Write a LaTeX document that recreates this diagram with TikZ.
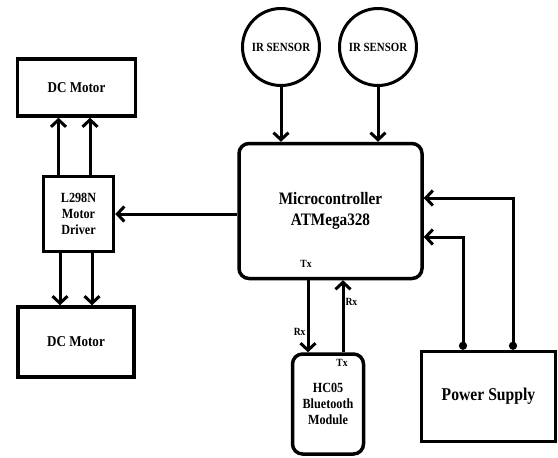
\documentclass[tikz,border=0pt]{standalone}
\usepackage{fontspec}
\setmainfont{Liberation Serif}[FakeStretch=0.87]
\usetikzlibrary{shapes, arrows.meta, positioning, calc}

\begin{document}
\begin{tikzpicture}[
        % styles for the blocks and the wires
        x=1pt, y=-1pt,
        block/.style={
            rectangle,
            draw,
            line width=3.5pt,
            inner sep=2pt,
            align=center,
            font=\bfseries\fontsize{14}{16}\selectfont
        },
        chip/.style={
            block,
            rounded corners=10pt
        },
        sensor/.style={
            circle,
            draw,
            line width=3pt,
            minimum size=77pt,
            inner sep=0pt,
            font=\bfseries\fontsize{12.5}{14}\selectfont
        },
        arrow/.style={
            -{Straight Barb[length=7pt,width=15pt]},
            line width=3pt
        },
        feed/.style={
            arrow,
            {Circle[length=8pt]}-{Straight Barb[length=7pt,width=15pt]}
        },
        tag/.style={
            font=\bfseries\fontsize{11}{12}\selectfont,
            inner sep=1pt
        }
    ]

    \useasboundingbox (0,0) rectangle (558,458);

    % --- 1. NODES ---

    % Microcontroller in the middle
    \node[chip, minimum width=183pt, minimum height=135pt,
          font=\bfseries\fontsize{17.5}{21}\selectfont] (micro) at (330.5,211) {Microcontroller\\ATMega328};

    % IR sensors on top
    \node[sensor] (irA) at (281,47) {IR SENSOR};
    \node[sensor] (irB) at (378,47) {IR SENSOR};

    % Motor driver and the two motors (left side)
    \node[block, minimum width=70pt, minimum height=75pt] (driver) at (78.5,214) {L298N\\Motor\\Driver};
    \node[block, minimum width=118pt, minimum height=57pt, font=\bfseries\fontsize{15}{18}\selectfont,
          above=57pt of driver, xshift=-2pt] (motorA) {DC Motor};
    \node[block, minimum width=116pt, minimum height=70pt, font=\bfseries\fontsize{15}{18}\selectfont,
          below=52pt of driver, xshift=-2.5pt] (motorB) {DC Motor};

    % Bluetooth module (below)
    \node[chip, minimum width=71pt, minimum height=100pt,
          below=72pt of micro, xshift=-2.5pt] (hc05) {HC05\\Bluetooth\\Module};

    % Power supply (bottom right)
    \node[block, minimum width=134pt, minimum height=90pt,
          font=\bfseries\fontsize{18}{21}\selectfont] (power) at (488.5,396.5) {Power Supply};

    % --- 2. EDGES ---

    % sensors -> microcontroller
    \draw[arrow] (irA.south) -- (irA.south |- micro.north);
    \draw[arrow] (irB.south) -- (irB.south |- micro.north);

    % microcontroller -> driver
    \draw[arrow] (micro.west |- driver.east) -- (driver.east);

    % driver -> motors
    \draw[arrow] ([xshift=-20pt]driver.north) -- ([xshift=-20pt]driver.north |- motorA.south);
    \draw[arrow] ([xshift=11.5pt]driver.north) -- ([xshift=11.5pt]driver.north |- motorA.south);
    \draw[arrow] ([xshift=-18.5pt]driver.south) -- ([xshift=-18.5pt]driver.south |- motorB.north);
    \draw[arrow] ([xshift=13.5pt]driver.south) -- ([xshift=13.5pt]driver.south |- motorB.north);

    % serial link with the bluetooth module
    \draw[arrow] ([xshift=-22.5pt]micro.south) -- node[tag, left, pos=0.72] (rxB) {Rx}
        ([xshift=-22.5pt]micro.south |- hc05.north);
    \draw[arrow] ([xshift=12.5pt]micro.south |- hc05.north) -- node[tag, right, pos=0.7] (rxM) {Rx}
        ([xshift=12.5pt]micro.south);
    \node[tag] (txM) at ([xshift=-24.5pt,yshift=16pt]micro.south) {Tx};
    \node[tag] (txH) at ([xshift=14pt,yshift=-11pt]hc05.north) {Tx};

    % power supply -> microcontroller (right angle wires)
    \draw[feed] ([xshift=-25.5pt]power.north) |- ([yshift=-26pt]micro.east);
    \draw[feed] ([xshift=24.5pt]power.north) |- ([yshift=13pt]micro.east);

\end{tikzpicture}
\end{document}
